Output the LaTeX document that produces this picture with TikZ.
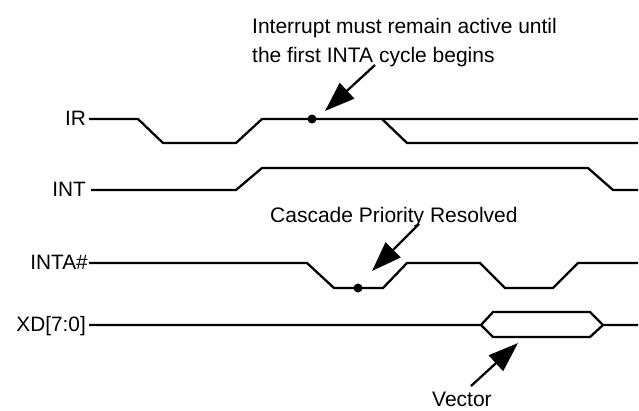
\documentclass[tikz,border=0pt]{standalone}
\usepackage{fontspec}
\setmainfont{Liberation Sans}
\usetikzlibrary{arrows.meta}
\begin{document}
\begin{tikzpicture}[x=1pt,y=-1pt,
  wave/.style={line width=2.3pt,line join=miter},
  siglabel/.style={anchor=base east,inner sep=0pt,font=\fontsize{20.8}{29}\selectfont},
  note/.style={anchor=base west,inner sep=0pt,font=\fontsize{21}{29}\selectfont},
  pointer/.style={line width=2.3pt,-{Triangle[length=30pt,width=21pt]}},
  dotmark/.style={circle,fill=black,inner sep=0pt,minimum size=9pt}]
\useasboundingbox (0,0) rectangle (639,410);
% signal labels
\node[siglabel] (lir) at (86,125) {IR};
\node[siglabel] (lint) at (86,196) {INT};
\node[siglabel] (linta) at (88,269.5) {INTA\#};
\node[siglabel] (lxd) at (86,331) {XD[7:0]};
% IR
\draw[wave] (89,119) -- (138,119) -- (163,143) -- (236,143) -- (262,119) -- (638,119);
\draw[wave] (382,119) -- (407,143) -- (638,143);
% INT
\draw[wave] (91,190) -- (236,190) -- (262,168) -- (588,168) -- (613,190) -- (638,190);
% INTA#
\draw[wave] (89,263) -- (307,263) -- (334,288) -- (383,288) -- (407,263) -- (480,263)
  -- (505,288) -- (553,288) -- (578,263) -- (638,263);
% XD[7:0]
\draw[wave] (89,325) -- (481,325) -- (493,312) -- (590,312) -- (603,325) -- (638,325);
\draw[wave] (481,325) -- (493,337) -- (590,337) -- (603,325);
% dots
\node[dotmark] (dir) at (312,119) {};
\node[dotmark] (dinta) at (358,288) {};
% annotations
\node[note] (n1a) at (252,33) {Interrupt must remain active until};
\node[note] (n1b) at (252,62) {the first INTA cycle begins};
\node[note] (n2) at (270,222) {Cascade Priority Resolved};
\node[note] (n3) at (432,406) {Vector};
% arrows
\coordinate (t1) at (375,65);
\coordinate (h1) at (325,111);
\coordinate (t2) at (419,224);
\coordinate (h2) at (372,271);
\coordinate (t3) at (471,386);
\coordinate (h3) at (518,343);
\draw[pointer] (t1) -- (h1);
\draw[pointer] (t2) -- (h2);
\draw[pointer] (t3) -- (h3);
\end{tikzpicture}
\end{document}
